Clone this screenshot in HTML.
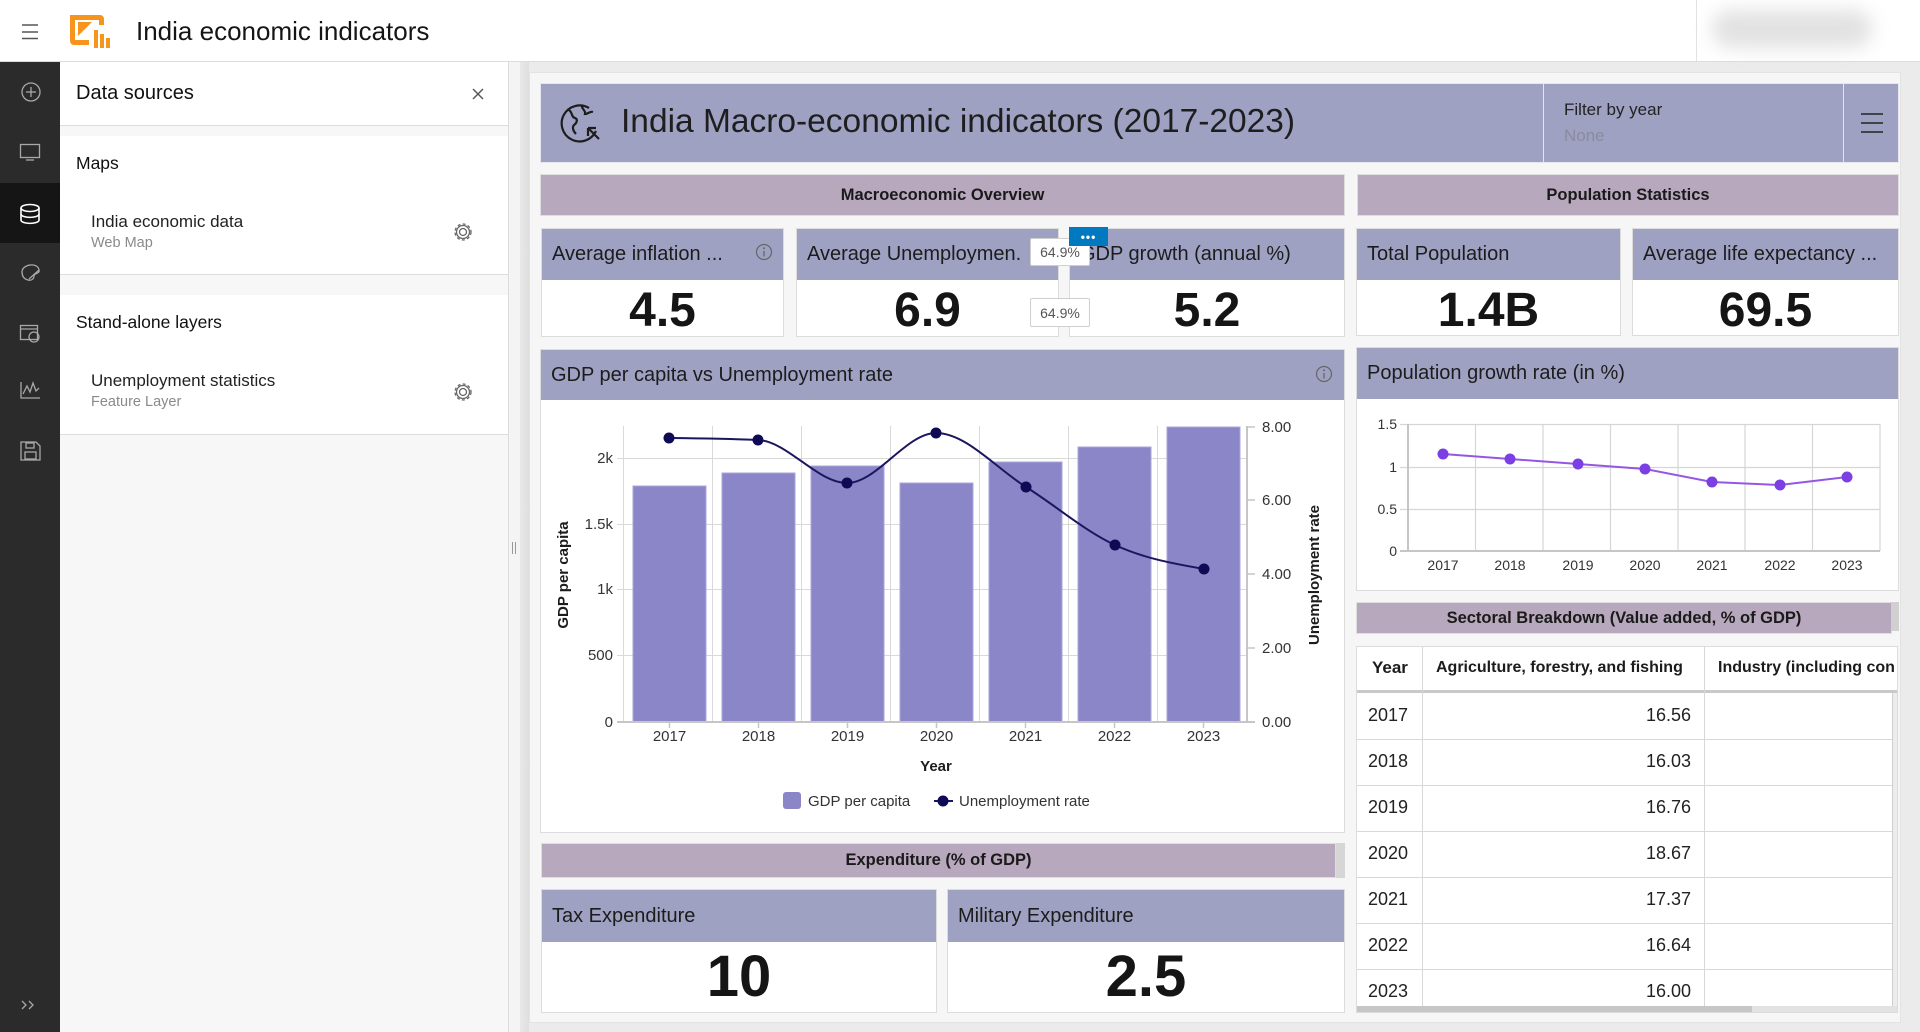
<!DOCTYPE html>
<html><head><meta charset="utf-8">
<style>
*{box-sizing:border-box;margin:0;padding:0}
body{width:1920px;height:1032px;overflow:hidden;background:#ebebeb;font-family:"Liberation Sans",sans-serif;color:#1c1c1c;position:relative}
.a{position:absolute}
.hdr{background:#9fa1c3}
.sec{background:#b8a8bd;border:1px solid #dedede;font-weight:bold;font-size:16.5px;display:flex;align-items:center;justify-content:center;color:#1a1a1a}
.card{background:#fff;border:1px solid #dcdcdc;overflow:hidden}
.card .h{position:absolute;left:0;right:0;top:0;background:#9fa1c3;font-size:20px;padding-left:10px;display:flex;align-items:center;white-space:nowrap;overflow:hidden;color:#1c1c1c}
.card .v{position:absolute;left:0;right:0;bottom:0;display:flex;align-items:center;justify-content:center;font-weight:bold;color:#151515}
.t{position:absolute;white-space:nowrap}
</style></head><body>

<!-- top bar -->
<div class="a" style="left:0;top:0;width:1920px;height:62px;background:#fff;border-bottom:1px solid #dcdcdc"></div>
<div class="a" style="left:1696px;top:0;width:1px;height:61px;background:#e2e2e2"></div>
<div class="a" style="left:1712px;top:10px;width:160px;height:38px;background:#e2e2e2;border-radius:18px;filter:blur(9px)"></div>
<svg class="a" style="left:0;top:0" width="130" height="62">
 <g stroke="#555" stroke-width="1.5"><line x1="22" y1="25" x2="38" y2="25"/><line x1="22" y1="32" x2="38" y2="32"/><line x1="22" y1="38.5" x2="38" y2="38.5"/></g>
 <g fill="#f7941d">
  <path d="M70 15 h30 a4 4 0 0 1 4 4 v6 h-5 v-5 h-24 v20 h14 v5 h-15 a4 4 0 0 1 -4 -4 z"/>
  <path d="M78 22 h14 l-14 14 z"/>
  <rect x="94" y="30" width="4" height="18"/><rect x="100" y="34" width="4" height="14"/><rect x="106" y="38" width="4" height="10"/>
 </g>
</svg>
<div class="t" style="left:136px;top:15px;font-size:26px;line-height:32px;color:#151515">India economic indicators</div>

<!-- left dark sidebar -->
<div class="a" style="left:0;top:62px;width:60px;height:970px;background:#2b2b2b"></div>
<div class="a" style="left:0;top:183px;width:60px;height:60px;background:#151515"></div>
<svg class="a" style="left:0;top:62px" width="60" height="970">
 <g fill="none" stroke="#a8a8a8" stroke-width="1.3">
  <circle cx="31" cy="30" r="9"/><line x1="31" y1="25" x2="31" y2="35"/><line x1="26" y1="30" x2="36" y2="30"/>
  <rect x="20.5" y="82.5" width="19" height="13"/><line x1="26" y1="98" x2="34" y2="98"/>
  <path d="M22 210 c0 -8 16 -10 17 -2 c1 4 -5 3 -5 6 c0 3 -3 5 -6 4 c-4 -1 -6 -4 -6 -8z"/><path d="M29 217 l10 -9"/>
  <rect x="20.5" y="263.5" width="17" height="14"/><line x1="20.5" y1="267" x2="37.5" y2="267"/><circle cx="34" cy="275" r="5"/>
  <path d="M21 320 v16 h19"/><path d="M23 332 l4 -8 l3 6 l3 -9 l3 8 l3 -3"/>
  <path d="M21 380 h15 l4 4 v14 h-19 z"/><rect x="25" y="390" width="11" height="7"/><rect x="26" y="381" width="8" height="5"/>
  <path d="M22 939 l4 4 l-4 4 M29 939 l4 4 l-4 4"/>
 </g>
 <g fill="none" stroke="#fff" stroke-width="1.6">
  <ellipse cx="30" cy="146" rx="9" ry="3.5"/><path d="M21 146 v12 c0 4.5 18 4.5 18 0 v-12"/><path d="M21 152 c0 4.5 18 4.5 18 0"/>
 </g>
</svg>

<!-- data sources panel -->
<div class="a" style="left:60px;top:62px;width:449px;height:970px;background:#f7f7f7;border-right:1px solid #dcdcdc"></div>
<div class="a" style="left:60px;top:62px;width:448px;height:64px;background:#fff;border-bottom:1px solid #dcdcdc"></div>
<div class="t" style="left:76px;top:80px;font-size:20px;line-height:26px;color:#111">Data sources</div>
<svg class="a" style="left:470px;top:86px" width="16" height="16"><g stroke="#555" stroke-width="1.4"><line x1="3" y1="3" x2="13" y2="13"/><line x1="13" y1="3" x2="3" y2="13"/></g></svg>
<div class="a" style="left:60px;top:136px;width:448px;height:139px;background:#fff;border-bottom:1px solid #dcdcdc"></div>
<div class="t" style="left:76px;top:151px;font-size:17.5px;line-height:24px;color:#111">Maps</div>
<div class="t" style="left:91px;top:211px;font-size:17px;line-height:22px;color:#222">India economic data</div>
<div class="t" style="left:91px;top:234px;font-size:14.5px;line-height:18px;color:#8a8a8a">Web Map</div>
<div class="a" style="left:60px;top:295px;width:448px;height:140px;background:#fff;border-bottom:1px solid #dcdcdc"></div>
<div class="t" style="left:76px;top:310px;font-size:17.5px;line-height:24px;color:#111">Stand-alone layers</div>
<div class="t" style="left:91px;top:370px;font-size:17px;line-height:22px;color:#222">Unemployment statistics</div>
<div class="t" style="left:91px;top:393px;font-size:14.5px;line-height:18px;color:#8a8a8a">Feature Layer</div>
<svg class="a" style="left:450px;top:219px" width="26" height="186">
 <g fill="none" stroke="#666" stroke-width="1.3">
  <circle cx="13" cy="13" r="3.5"/><circle cx="13" cy="13" r="8" stroke-dasharray="3 2.3"/><circle cx="13" cy="13" r="6.5"/>
  <circle cx="13" cy="173" r="3.5"/><circle cx="13" cy="173" r="8" stroke-dasharray="3 2.3"/><circle cx="13" cy="173" r="6.5"/>
 </g>
</svg>
<!-- splitter -->
<div class="a" style="left:509px;top:62px;width:11px;height:970px;background:#f4f4f4"></div>
<div class="a" style="left:520px;top:62px;width:9px;height:970px;background:linear-gradient(90deg,#e9e9e9,#dedede)"></div>
<div class="a" style="left:512px;top:542px;width:1px;height:12px;background:#999"></div>
<div class="a" style="left:515px;top:542px;width:1px;height:12px;background:#999"></div>

<!-- dashboard panel -->
<div class="a" style="left:529px;top:72px;width:1372px;height:951px;background:#f6f6f6;border:1px solid #e3e3e3"></div>

<!-- banner -->
<div class="a hdr" style="left:540px;top:83px;width:1359px;height:80px;border:1px solid #e6e6ec"></div>
<div class="a" style="left:1543px;top:83px;width:1px;height:80px;background:#e4e4ee"></div>
<div class="a" style="left:1843px;top:83px;width:1px;height:80px;background:#e4e4ee"></div>
<svg class="a" style="left:556px;top:98px" width="50" height="50">
 <g fill="none" stroke="#1d1d1d" stroke-width="2.2">
  <path d="M33 10 A18 18 0 1 0 40 33"/>
  <path d="M13 12 c4 3 2 7 6 8 c3 1 2 5 -1 7 c-2 2 -1 6 2 9"/>
  <path d="M26 7 c-1 4 4 5 3 9 c3 0 5 -3 8 -2"/>
  <path d="M32 30 l11 11 M32 30 v8 M32 30 h8"/>
 </g>
</svg>
<div class="t" style="left:621px;top:101px;font-size:33.5px;line-height:42px;color:#1e1e1e">India Macro-economic indicators (2017-2023)</div>
<div class="t" style="left:1564px;top:99px;font-size:17px;line-height:22px;color:#222">Filter by year</div>
<div class="t" style="left:1564px;top:125px;font-size:17px;line-height:22px;color:#8b8b9c">None</div>
<svg class="a" style="left:1858px;top:108px" width="30" height="30"><g stroke="#222" stroke-width="1.5"><line x1="3" y1="6" x2="25" y2="6"/><line x1="3" y1="15" x2="25" y2="15"/><line x1="3" y1="24" x2="25" y2="24"/></g></svg>

<!-- section headers -->
<div class="a sec" style="left:540px;top:174px;width:805px;height:42px">Macroeconomic Overview</div>
<div class="a sec" style="left:1357px;top:174px;width:542px;height:42px">Population Statistics</div>

<!-- KPI cards -->
<div class="a card" style="left:541px;top:228px;width:243px;height:109px"><div class="h" style="height:51px">Average inflation ...</div><div class="v" style="height:58px;font-size:48px;padding-top:7px">4.5</div></div>
<svg class="a" style="left:755px;top:243px" width="18" height="18"><circle cx="9" cy="9" r="7.5" fill="none" stroke="#666" stroke-width="1.2"/><line x1="9" y1="8" x2="9" y2="13.5" stroke="#666" stroke-width="1.3"/><circle cx="9" cy="5.3" r="1" fill="#666"/></svg>
<div class="a card" style="left:796px;top:228px;width:263px;height:109px"><div class="h" style="height:51px">Average Unemploymen.</div><div class="v" style="height:58px;font-size:48px;padding-top:7px">6.9</div></div>
<div class="a card" style="left:1069px;top:228px;width:276px;height:109px"><div class="h" style="height:51px">GDP growth (annual %)</div><div class="v" style="height:58px;font-size:48px;padding-top:7px">5.2</div></div>
<div class="a card" style="left:1356px;top:228px;width:265px;height:108px"><div class="h" style="height:51px">Total Population</div><div class="v" style="height:57px;font-size:48px;padding-top:7px">1.4B</div></div>
<div class="a card" style="left:1632px;top:228px;width:267px;height:108px"><div class="h" style="height:51px">Average life expectancy ...</div><div class="v" style="height:57px;font-size:48px;padding-top:7px">69.5</div></div>
<!-- overlay tooltips -->
<div class="a" style="left:1030px;top:238px;width:60px;height:28px;background:#fff;border:1px solid #cfcfcf;border-radius:2px;font-size:14px;color:#555;display:flex;align-items:center;justify-content:center">64.9%</div>
<div class="a" style="left:1030px;top:298px;width:60px;height:29px;background:#fff;border:1px solid #cfcfcf;border-radius:2px;font-size:14px;color:#555;display:flex;align-items:center;justify-content:center">64.9%</div>
<div class="a" style="left:1069px;top:227px;width:39px;height:19px;background:#0079c1;color:#fff;font-size:12px;font-weight:bold;display:flex;align-items:center;justify-content:center;letter-spacing:1px">•••</div>

<!-- chart card -->
<div class="a card" style="left:540px;top:349px;width:805px;height:484px"><div class="h" style="height:50px">GDP per capita vs Unemployment rate</div></div>
<svg class="a" style="left:1315px;top:365px" width="18" height="18"><circle cx="9" cy="9" r="7.5" fill="none" stroke="#666" stroke-width="1.2"/><line x1="9" y1="8" x2="9" y2="13.5" stroke="#666" stroke-width="1.3"/><circle cx="9" cy="5.3" r="1" fill="#666"/></svg>

<!-- population card -->
<div class="a card" style="left:1356px;top:347px;width:543px;height:244px"><div class="h" style="height:51px">Population growth rate (in %)</div></div>

<!-- sectoral -->
<div class="a sec" style="left:1356px;top:602px;width:536px;height:32px">Sectoral Breakdown (Value added, % of GDP)</div>
<div class="a" style="left:1891px;top:602px;width:8px;height:29px;background:#d0d0d0"></div>

<!-- table -->
<div class="a" style="left:1356px;top:646px;width:542px;height:367px;background:#fff;border:1px solid #dcdcdc;overflow:hidden">
 <div class="a" style="left:0;top:43px;width:542px;height:3px;background:#c9c9c9"></div>
 <div class="a" style="left:65px;top:0;width:1px;height:360px;background:#d8d8d8"></div>
 <div class="a" style="left:347px;top:0;width:1px;height:360px;background:#d8d8d8"></div>
 <div class="a" style="left:0;top:92px;width:536px;height:1px;background:#d8d8d8"></div>
 <div class="a" style="left:0;top:138px;width:536px;height:1px;background:#d8d8d8"></div>
 <div class="a" style="left:0;top:184px;width:536px;height:1px;background:#d8d8d8"></div>
 <div class="a" style="left:0;top:230px;width:536px;height:1px;background:#d8d8d8"></div>
 <div class="a" style="left:0;top:276px;width:536px;height:1px;background:#d8d8d8"></div>
 <div class="a" style="left:0;top:322px;width:536px;height:1px;background:#d8d8d8"></div>
 <div class="t" style="left:15px;top:10px;font-size:17px;line-height:22px;font-weight:bold;color:#1c1c1c">Year</div>
 <div class="t" style="left:79px;top:10px;font-size:16px;line-height:22px;font-weight:bold;color:#1c1c1c">Agriculture, forestry, and fishing</div>
 <div class="t" style="left:361px;top:10px;font-size:16px;line-height:22px;font-weight:bold;color:#1c1c1c">Industry (including con</div>
 <div class="t" style="left:11px;top:57px;font-size:18px;line-height:22px;color:#222">2017</div>
 <div class="t" style="left:11px;top:103px;font-size:18px;line-height:22px;color:#222">2018</div>
 <div class="t" style="left:11px;top:149px;font-size:18px;line-height:22px;color:#222">2019</div>
 <div class="t" style="left:11px;top:195px;font-size:18px;line-height:22px;color:#222">2020</div>
 <div class="t" style="left:11px;top:241px;font-size:18px;line-height:22px;color:#222">2021</div>
 <div class="t" style="left:11px;top:287px;font-size:18px;line-height:22px;color:#222">2022</div>
 <div class="t" style="left:11px;top:333px;font-size:18px;line-height:22px;color:#222">2023</div>
 <div class="t" style="right:206px;top:57px;font-size:18px;line-height:22px;color:#222">16.56</div>
 <div class="t" style="right:206px;top:103px;font-size:18px;line-height:22px;color:#222">16.03</div>
 <div class="t" style="right:206px;top:149px;font-size:18px;line-height:22px;color:#222">16.76</div>
 <div class="t" style="right:206px;top:195px;font-size:18px;line-height:22px;color:#222">18.67</div>
 <div class="t" style="right:206px;top:241px;font-size:18px;line-height:22px;color:#222">17.37</div>
 <div class="t" style="right:206px;top:287px;font-size:18px;line-height:22px;color:#222">16.64</div>
 <div class="t" style="right:206px;top:333px;font-size:18px;line-height:22px;color:#222">16.00</div>
 <div class="a" style="left:535px;top:46px;width:6px;height:313px;background:#ececec;border-left:1px solid #cfcfcf"></div>
 <div class="a" style="left:0;top:359px;width:541px;height:7px;background:#e2e2e2"></div>
 <div class="a" style="left:0;top:359px;width:395px;height:7px;background:#c6c6c6"></div>
</div>

<!-- expenditure -->
<div class="a sec" style="left:541px;top:843px;width:795px;height:35px">Expenditure (% of GDP)</div>
<div class="a" style="left:1336px;top:843px;width:9px;height:35px;background:#d6d6d6"></div>
<div class="a card" style="left:541px;top:889px;width:396px;height:124px"><div class="h" style="height:52px">Tax Expenditure</div><div class="v" style="height:72px;font-size:58px">10</div></div>
<div class="a card" style="left:947px;top:889px;width:398px;height:124px"><div class="h" style="height:52px">Military Expenditure</div><div class="v" style="height:72px;font-size:58px">2.5</div></div>

<!-- charts overlay -->
<svg class="a" style="left:0;top:0" width="1920" height="1032" font-family="Liberation Sans, sans-serif">
 <!-- bar chart grid -->
 <g stroke="#d9d9d9" stroke-width="1">
  <line x1="617" y1="458.5" x2="1247" y2="458.5"/><line x1="617" y1="524.5" x2="1247" y2="524.5"/>
  <line x1="617" y1="589.5" x2="1247" y2="589.5"/><line x1="617" y1="655.5" x2="1247" y2="655.5"/>
  <line x1="623.5" y1="426" x2="623.5" y2="722"/><line x1="712.5" y1="426" x2="712.5" y2="722"/>
  <line x1="801.5" y1="426" x2="801.5" y2="722"/><line x1="890.5" y1="426" x2="890.5" y2="722"/>
  <line x1="979.5" y1="426" x2="979.5" y2="722"/><line x1="1068.5" y1="426" x2="1068.5" y2="722"/>
  <line x1="1157.5" y1="426" x2="1157.5" y2="722"/>
 </g>
 <g fill="#8b86c8" stroke="#a9a5d8" stroke-width="1">
  <rect x="633" y="486" width="73" height="236"/>
  <rect x="722" y="473" width="73" height="249"/>
  <rect x="811" y="466" width="73" height="256"/>
  <rect x="900" y="483" width="73" height="239"/>
  <rect x="989" y="462" width="73" height="260"/>
  <rect x="1078" y="447" width="73" height="275"/>
  <rect x="1167" y="427" width="73" height="295"/>
 </g>
 <g stroke="#c6c6c6" stroke-width="2">
  <line x1="617" y1="722" x2="1255" y2="722"/>
  <line x1="1247" y1="426" x2="1247" y2="722"/>
 </g>
 <g stroke="#c6c6c6" stroke-width="1.5">
  <line x1="1247" y1="427" x2="1255" y2="427"/><line x1="1247" y1="500" x2="1255" y2="500"/>
  <line x1="1247" y1="574" x2="1255" y2="574"/><line x1="1247" y1="648" x2="1255" y2="648"/>
  <line x1="669.5" y1="722" x2="669.5" y2="728"/><line x1="758.5" y1="722" x2="758.5" y2="728"/>
  <line x1="847.5" y1="722" x2="847.5" y2="728"/><line x1="936.5" y1="722" x2="936.5" y2="728"/>
  <line x1="1025.5" y1="722" x2="1025.5" y2="728"/><line x1="1114.5" y1="722" x2="1114.5" y2="728"/>
  <line x1="1203.5" y1="722" x2="1203.5" y2="728"/>
 </g>
 <path d="M669 438 C698.7 438.3 728.3 438.7 758 440 C787.7 441.3 817.3 483 847 483 C876.7 483 906.3 433 936 433 C966 433 996 468.2 1026 487 C1055.7 505.6 1085.3 531.3 1115 545 C1144.7 558.7 1174.3 563.8 1204 569" fill="none" stroke="#1b1660" stroke-width="2"/>
 <g fill="#0e0a55">
  <circle cx="669" cy="438" r="5.5"/><circle cx="758" cy="440" r="5.5"/><circle cx="847" cy="483" r="5.5"/>
  <circle cx="936" cy="433" r="5.5"/><circle cx="1026" cy="487" r="5.5"/><circle cx="1115" cy="545" r="5.5"/>
  <circle cx="1204" cy="569" r="5.5"/>
 </g>
 <g font-size="15" fill="#333" text-anchor="end">
  <text x="613" y="463">2k</text><text x="613" y="529">1.5k</text><text x="613" y="594">1k</text>
  <text x="613" y="660">500</text><text x="613" y="727">0</text>
 </g>
 <g font-size="15" fill="#333">
  <text x="1262" y="432">8.00</text><text x="1262" y="505">6.00</text><text x="1262" y="579">4.00</text>
  <text x="1262" y="653">2.00</text><text x="1262" y="727">0.00</text>
 </g>
 <g font-size="15" fill="#333" text-anchor="middle">
  <text x="669.5" y="741">2017</text><text x="758.5" y="741">2018</text><text x="847.5" y="741">2019</text>
  <text x="936.5" y="741">2020</text><text x="1025.5" y="741">2021</text><text x="1114.5" y="741">2022</text>
  <text x="1203.5" y="741">2023</text>
  <text x="936" y="771" font-weight="bold" fill="#1c1c1c">Year</text>
  <text transform="translate(568 575) rotate(-90)" font-weight="bold" fill="#1c1c1c">GDP per capita</text>
  <text transform="translate(1319 575) rotate(-90)" font-weight="bold" fill="#1c1c1c">Unemployment rate</text>
 </g>
 <!-- legend -->
 <rect x="783" y="792" width="18" height="17" rx="3" fill="#8b86c8"/>
 <text x="808" y="806" font-size="15" fill="#333">GDP per capita</text>
 <line x1="934" y1="801" x2="953" y2="801" stroke="#1b1660" stroke-width="2"/>
 <circle cx="943" cy="801" r="5.5" fill="#0e0a55"/>
 <text x="959" y="806" font-size="15" fill="#333">Unemployment rate</text>

 <!-- population chart -->
 <g stroke="#d6d6d6" stroke-width="1.2">
  <line x1="1400" y1="424.5" x2="1880" y2="424.5"/><line x1="1400" y1="467.5" x2="1880" y2="467.5"/>
  <line x1="1400" y1="509.5" x2="1880" y2="509.5"/>
  <line x1="1475.5" y1="424" x2="1475.5" y2="551"/><line x1="1543" y1="424" x2="1543" y2="551"/>
  <line x1="1610.5" y1="424" x2="1610.5" y2="551"/><line x1="1678" y1="424" x2="1678" y2="551"/>
  <line x1="1745" y1="424" x2="1745" y2="551"/><line x1="1812.5" y1="424" x2="1812.5" y2="551"/>
  <line x1="1880" y1="424" x2="1880" y2="551"/>
 </g>
 <g stroke="#c6c6c6" stroke-width="2">
  <line x1="1408" y1="424" x2="1408" y2="552"/><line x1="1400" y1="551" x2="1880" y2="551"/>
 </g>
 <polyline points="1443,454 1510,459 1578,464 1645,469 1712,482 1780,485 1847,477" fill="none" stroke="#9557e2" stroke-width="2"/>
 <g fill="#7b3fe4">
  <circle cx="1443" cy="454" r="5.5"/><circle cx="1510" cy="459" r="5.5"/><circle cx="1578" cy="464" r="5.5"/>
  <circle cx="1645" cy="469" r="5.5"/><circle cx="1712" cy="482" r="5.5"/><circle cx="1780" cy="485" r="5.5"/>
  <circle cx="1847" cy="477" r="5.5"/>
 </g>
 <g font-size="14" fill="#333" text-anchor="end">
  <text x="1397" y="429">1.5</text><text x="1397" y="472">1</text><text x="1397" y="514">0.5</text><text x="1397" y="556">0</text>
 </g>
 <g font-size="14" fill="#333" text-anchor="middle">
  <text x="1443" y="570">2017</text><text x="1510" y="570">2018</text><text x="1578" y="570">2019</text>
  <text x="1645" y="570">2020</text><text x="1712" y="570">2021</text><text x="1780" y="570">2022</text>
  <text x="1847" y="570">2023</text>
 </g>
</svg>
</body></html>
